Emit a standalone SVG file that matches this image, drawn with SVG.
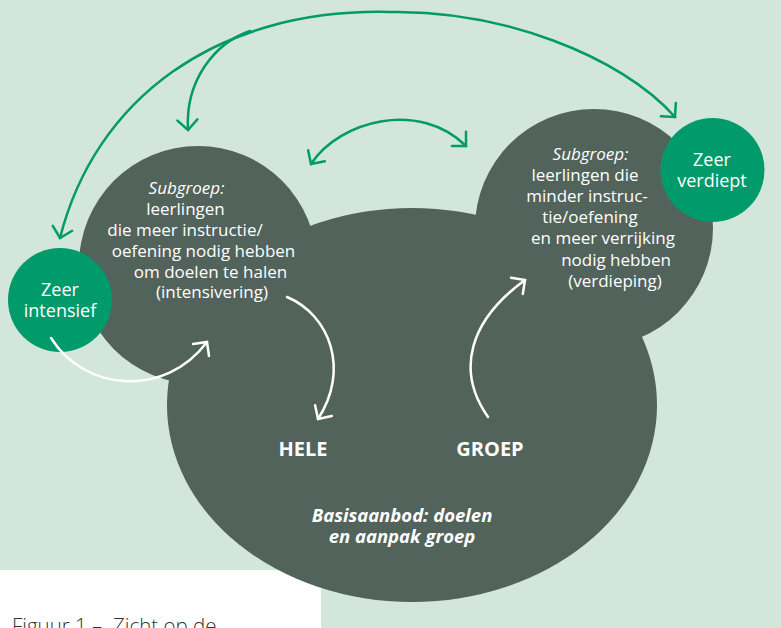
<svg xmlns="http://www.w3.org/2000/svg" width="781" height="628" viewBox="0 0 781 628">
<defs>
<style>
.bg{fill:#D3E6DB}
.blob{fill:#52635B}
.node{fill:#009A6B}
.t{font-family:"Open Sans","Liberation Sans",sans-serif;font-size:17px;fill:#ffffff;text-anchor:middle}
.n{font-family:"Open Sans","Liberation Sans",sans-serif;font-size:18px;fill:#ffffff;text-anchor:middle}
.it{font-style:italic}
.big{font-family:"Open Sans","Liberation Sans",sans-serif;font-size:20px;font-weight:700;fill:#ffffff;text-anchor:middle}
.base{font-family:"Open Sans","Liberation Sans",sans-serif;font-size:18.5px;font-weight:700;font-style:italic;fill:#ffffff;text-anchor:middle}
.cap{font-family:"Open Sans","Liberation Sans",sans-serif;font-size:20.5px;font-weight:300;fill:#333333}
.g{fill:none;stroke:#009A6B;stroke-width:2.5;stroke-linecap:round}
.w{fill:none;stroke:#ffffff;stroke-width:2.5;stroke-linecap:round}
</style>
<marker id="ag" markerUnits="userSpaceOnUse" viewBox="-12 -12 14 24" refX="0" refY="0" markerWidth="14" markerHeight="24" orient="auto-start-reverse" overflow="visible">
<path d="M -10,-10 L 0,0 L -10,10" fill="none" stroke="#009A6B" stroke-width="2.5" stroke-linecap="round" stroke-linejoin="miter"/>
</marker>
<marker id="aw" markerUnits="userSpaceOnUse" viewBox="-12 -12 14 24" refX="0" refY="0" markerWidth="14" markerHeight="24" orient="auto" overflow="visible">
<path d="M -10,-10 L 0,0 L -10,10" fill="none" stroke="#ffffff" stroke-width="2.5" stroke-linecap="round" stroke-linejoin="miter"/>
</marker>
</defs>
<rect class="bg" x="0" y="0" width="781" height="628"/>
<rect x="0" y="570" width="321" height="58" fill="#ffffff"/>
<text class="cap" x="12" y="633">Figuur 1 – &#160;Zicht op de</text>

<g id="basisgroep">
<ellipse class="blob" cx="412" cy="405" rx="245" ry="197"/>
<text class="big" x="303" y="456">HELE</text>
<text class="big" x="490" y="456">GROEP</text>
<text class="base" x="402" y="522">Basisaanbod: doelen</text>
<text class="base" x="402" y="543">en aanpak groep</text>
</g>

<g id="subgroep-intensivering">
<circle class="blob" cx="198" cy="265" r="119"/>
<text class="t it" x="186.5" y="194">Subgroep:</text>
<text class="t" x="185.5" y="215">leerlingen</text>
<text class="t" x="185" y="236">die meer instructie/</text>
<text class="t" x="203.5" y="257">oefening nodig hebben</text>
<text class="t" x="210.5" y="278">om doelen te halen</text>
<text class="t" x="212" y="298">(intensivering)</text>
</g>

<g id="subgroep-verdieping">
<circle class="blob" cx="594" cy="228" r="119"/>
<text class="t it" x="590.5" y="160">Subgroep:</text>
<text class="t" x="585" y="181">leerlingen die</text>
<text class="t" x="587" y="202">minder instruc-</text>
<text class="t" x="590" y="223">tie/oefening</text>
<text class="t" x="603" y="244">en meer verrijking</text>
<text class="t" x="616" y="266">nodig hebben</text>
<text class="t" x="615" y="287">(verdieping)</text>
</g>

<g id="zeer-intensief">
<circle class="node" cx="60" cy="300" r="52"/>
<text class="n" x="60" y="296">Zeer</text>
<text class="n" x="60" y="317">intensief</text>
</g>

<g id="zeer-verdiept">
<circle class="node" cx="712.5" cy="170" r="52"/>
<text class="n" x="712" y="166">Zeer</text>
<text class="n" x="712" y="187">verdiept</text>
</g>

<g id="connectors">
<path class="g" d="M 675,117 C 620,55 500,10 390,12 C 215,8 95,100 60,238" marker-start="url(#ag)" marker-end="url(#ag)"/>
<path class="g" d="M 250,31 C 215,43 185,80 188,130" marker-end="url(#ag)"/>
<path class="g" d="M 311,164 C 340,120 420,100 466,146" marker-start="url(#ag)" marker-end="url(#ag)"/>
<path class="w" d="M 51,338 C 85,392 165,398 207,342" marker-end="url(#aw)"/>
<path class="w" d="M 287,297 C 330,315 350,370 318,419" marker-end="url(#aw)"/>
<path class="w" d="M 488,417 C 455,370 470,320 525,280" marker-end="url(#aw)"/>
</g>
</svg>
